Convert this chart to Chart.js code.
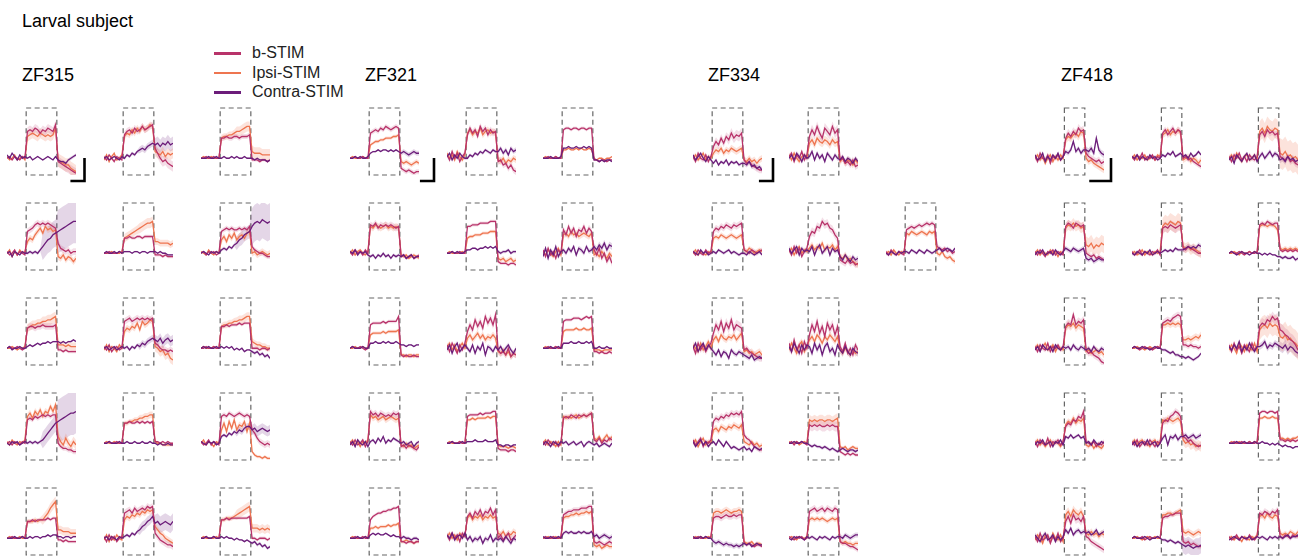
<!DOCTYPE html>
<html>
<head>
<meta charset="utf-8">
<script src="https://cdn.jsdelivr.net/npm/chart.js@4.4.0/dist/chart.umd.min.js"></script>
<style>
  body { margin: 0; background: #fff; font-family: "Liberation Sans", Arial, sans-serif; }
  #page { position: relative; width: 1310px; height: 556px; overflow: hidden; background: #fff; }
  .txt { position: absolute; white-space: nowrap; color: #000; }
  .legtxt { position: absolute; white-space: nowrap; color: #222; font-size: 16px; line-height: 16px; }
  .legline { position: absolute; width: 27px; height: 2.5px; }
  canvas { position: absolute; }
</style>
</head>
<body>
<div id="page"></div>
<script>
// ---- data: dF/F traces, 28 samples each (pre | stim | post) ----
const groupNames = ['ZF315', 'ZF321', 'ZF334', 'ZF418'];
const conditions = ['b-STIM', 'Ipsi-STIM', 'Contra-STIM'];
const stimOnset = [8, 8, 8, 12];   // first stimulus sample per fish
const stimLast = 19;               // last stimulus sample
const scaleBarT = [5, 5, 5, 8];    // samples
const scaleBarDF = 13;

const zf315B = [
  [0,1,-1,1,0,-1,1,0, 16,17,16,18,17,15,17,16,18,17,16,20, -2,-3,-4,-5,-6,-7,-8,-9],
  [1,-1,2,0,-2,1,0,-1, 14,16,17,15,18,16,17,19,17,18,19,20, 6,3,0,-2,-1,-3,-4,-5],
  [0,0,1,0,0,1,0,0, 12,12,13,12,12,13,13,12,13,13,13,14, -1,-1,-1,-2,-1,-1,-2,-1],
  [1,-1,0,2,-1,1,0,-1, 13,14,15,17,18,17,18,17,18,17,16,15, 6,3,2,1,2,0,1,1],
  [0,0,1,0,0,0,1,0, 9,9,10,9,9,10,10,9,10,10,10,10, -1,-1,-1,-2,-1,-2,-2,-2],
  [0,1,-1,1,0,1,-1,0, 13,14,15,14,15,14,14,15,14,15,14,16, 4,2,1,0,0,-1,-2,-2],
  [0,1,0,0,1,0,-1,0, 12,13,13,12,13,13,14,13,13,13,13,14, -1,-1,-2,-1,-2,-2,-2,-2],
  [1,-1,2,-2,0,1,-1,0, 16,17,18,16,17,18,17,18,17,18,17,18, 3,2,0,-1,-1,-2,-1,-2],
  [0,0,1,0,0,1,0,0, 13,13,14,13,14,14,14,15,14,15,15,15, 0,0,0,-1,0,0,-1,0],
  [0,1,-1,1,0,-1,1,0, 14,15,14,16,15,16,17,16,17,16,17,17, 0,-2,-3,-3,-4,-4,-5,-5],
  [0,0,1,0,0,1,0,0, 12,12,13,12,12,13,12,13,12,13,12,13, 1,1,0,1,0,1,0,0],
  [1,-1,0,2,-1,1,0,-1, 16,17,16,18,17,16,17,18,17,16,17,16, 8,6,3,1,0,-1,0,-1],
  [0,0,1,0,0,0,1,0, 10,10,11,10,11,11,11,11,12,11,12,12, -1,-1,-2,-1,-2,-2,-2,-2],
  [1,-2,2,-1,1,-2,0,1, 15,16,17,15,18,16,17,18,17,19,18,19, 3,1,-1,-2,-3,-4,-4,-5],
  [0,0,1,0,0,1,0,0, 11,11,12,11,12,12,12,12,12,12,12,13, 0,0,-1,0,0,0,-1,0]
];
const zf315I = [
  [1,-1,0,2,-1,0,1,-1, 13,14,15,14,13,15,14,13,14,13,14,18, -1,-2,-3,-4,-4,-6,-7,-8],
  [-1,2,-2,1,3,-1,0,2, 13,15,14,17,15,18,16,19,17,18,20,19, 4,3,2,4,1,3,2,3],
  [0,1,0,0,1,0,0,0, 12,13,13,14,14,15,16,16,17,18,19,19, 4,3,3,3,2,2,2,2],
  [0,2,-2,1,-1,2,0,1, 7,9,8,11,13,15,12,16,14,15,13,14, -2,-3,-1,-4,-2,-3,-5,-3],
  [0,0,0,1,0,0,0,1, 9,10,11,12,13,14,15,16,17,18,18,19, 7,7,6,6,6,6,5,6],
  [1,0,-1,2,0,-1,1,0, 8,10,7,11,9,12,8,10,11,9,12,13, 0,1,-1,0,1,0,-1,0],
  [0,0,1,0,-1,0,0,1, 12,13,14,14,15,15,16,16,17,17,18,19, 2,2,2,1,2,1,1,1],
  [-1,2,-2,1,0,-2,2,0, 10,12,11,13,12,15,11,16,14,15,17,16, 1,0,-2,-1,-4,-3,-6,-7],
  [0,1,0,0,0,1,0,0, 13,14,14,15,15,16,16,17,17,18,19,19, 4,3,2,2,1,1,0,0],
  [1,-1,2,0,-1,1,0,2, 16,18,15,19,17,20,16,19,18,22,19,23, 4,1,-1,3,0,-2,1,-1],
  [0,1,0,0,1,0,0,0, 12,12,13,13,14,14,15,15,16,16,17,17, 1,0,0,-1,-1,-1,-1,-1],
  [0,2,-1,1,0,-2,1,0, 8,12,7,13,9,14,8,11,10,13,7,12, -5,-7,-8,-8,-9,-8,-9,-9],
  [0,1,0,0,0,1,0,0, 10,10,10,11,10,11,11,13,15,18,20,22, 5,5,4,4,4,3,3,3],
  [-1,2,-2,1,-1,2,0,-1, 11,13,12,14,13,15,14,16,15,17,16,17, 7,5,3,2,0,-1,-2,-3],
  [0,1,0,0,0,0,1,0, 11,11,12,12,12,13,14,15,16,17,18,19, 6,6,6,5,6,5,6,5]
];
const zf315C = [
  [2,0,3,1,-1,2,0,1, 0,1,-1,0,1,0,-1,0,1,0,-1,1, -1,-2,-2,-3,-1,0,1,2],
  [0,1,-1,0,1,0,-1,1, 0,2,1,3,2,4,5,6,5,7,8,9, 8,9,7,9,8,10,8,9],
  [0,0,0,1,0,0,1,0, 0,1,0,0,1,0,1,0,0,1,0,0, 0,-1,0,-1,-1,-1,-2,-1],
  [0,1,-2,1,0,-1,1,0, 0,1,0,1,0,2,4,6,8,9,11,12, 13,14,15,16,17,18,19,19],
  [0,1,0,0,1,0,1,0, 1,1,1,0,1,1,0,1,1,0,1,1, 1,0,1,0,0,-1,-1,-1],
  [0,1,0,-1,1,0,1,0, 2,3,2,4,3,5,6,8,9,11,12,13, 16,18,19,18,20,19,18,19],
  [0,1,-1,0,0,1,0,0, 1,2,1,2,3,2,3,3,4,3,4,4, 4,3,4,3,4,4,5,4],
  [0,1,-1,0,1,-1,0,1, 0,1,-1,1,0,2,1,3,2,4,5,6, 5,4,6,3,5,6,4,5],
  [0,1,0,1,0,0,1,0, 1,0,1,0,1,-1,0,-1,0,-2,-1,-1, -2,-3,-2,-4,-3,-5,-4,-6],
  [0,-1,1,0,1,-1,0,1, 0,1,0,1,0,1,2,4,6,8,10,12, 13,14,15,16,17,18,18,19],
  [0,0,1,0,0,0,1,0, 0,1,0,0,1,0,0,1,0,0,1,0, 0,-1,0,-1,-1,0,-1,-1],
  [1,0,-1,1,0,1,-1,0, 4,5,4,6,5,7,6,8,7,9,10,10, 8,9,7,8,9,8,7,8],
  [0,0,0,1,0,0,1,0, 0,1,0,1,1,0,1,1,2,1,2,2, 1,1,0,1,1,0,1,1],
  [0,1,-1,1,0,-1,1,0, 1,2,1,3,2,4,5,7,8,10,11,13, 9,10,8,9,10,9,8,10],
  [0,0,1,0,0,1,0,0, 1,0,1,0,0,-1,0,-1,-1,-2,-1,-2, -3,-2,-4,-3,-5,-4,-6,-5]
];
// s.e.m. per trace: [pre, early stim, late stim, post], order b / ipsi / contra
const zf315Err = [
  [[0.5,2.5,2.5,3],[0.5,3,3,4],[0.5,0.5,0.5,1]],
  [[1,2,2,3],[1,2,2,3],[0.5,1,2,4]],
  [[0.3,1.5,1.5,1],[0.3,2,3,3.5],[0.3,0.5,0.5,0.5]],
  [[0.5,2,2,2],[0.5,2,2,2],[0.5,1,8,13]],
  [[0.3,1,1,1],[0.3,2.5,3,2],[0.3,0.5,0.5,0.5]],
  [[0.5,1.5,1.5,1.5],[0.5,2,2,2],[0.5,1,4,11]],
  [[0.3,2,2,1],[0.3,2.5,3,2.5],[0.3,0.5,0.5,0.5]],
  [[1,2,2,2],[1,2,2,3],[0.5,1,2,3]],
  [[0.3,1,1,1],[0.3,2,2.5,2],[0.3,0.5,0.5,1]],
  [[0.5,1.5,1.5,1.5],[0.5,2,2,3],[0.5,1,5,13]],
  [[0.3,1,1,0.5],[0.3,1.5,2,1],[0.3,0.5,0.5,0.5]],
  [[0.5,1.5,1.5,2],[0.5,2,2,1],[0.5,1,2,3]],
  [[0.3,1,1,1],[0.3,1.5,3,2.5],[0.3,0.5,0.5,0.5]],
  [[1,2,2,2],[1,2,2,2],[0.5,1,3,5]],
  [[0.3,1,1,1],[0.3,1.5,3,2.5],[0.3,0.5,0.5,1]]
];

const zf321B = [
  [0,0,1,0,0,1,0,0, 15,16,17,16,18,17,19,18,17,18,19,18, -6,-7,-8,-7,-8,-9,-8,-8],
  [2,-1,4,0,3,-2,1,3, 14,18,15,17,13,19,16,18,14,17,15,16, -2,-1,-4,-3,-6,-4,-7,-8],
  [0,0,1,0,0,1,0,0, 17,18,18,17,18,18,17,18,18,17,18,18, -1,-1,-2,-1,-1,-2,-1,-1],
  [1,-1,2,0,1,-1,2,0, 17,16,18,15,17,16,17,16,17,16,15,16, -2,-1,-3,-2,-1,-3,-2,-1],
  [0,0,1,0,0,1,0,0, 16,16,17,17,17,18,18,18,18,19,19,19, -5,-6,-6,-6,-7,-6,-6,-7],
  [2,-2,3,-1,1,-3,2,0, 14,11,16,12,15,10,14,13,16,12,15,13, 2,-1,3,-3,0,-5,-2,-6],
  [0,1,0,0,1,0,-1,0, 14,15,15,15,15,16,15,16,16,16,16,19, -4,-5,-4,-5,-5,-4,-5,-5],
  [2,-2,3,0,-3,2,-1,3, 10,14,11,17,13,16,12,19,15,18,14,20, -1,-3,-2,-4,0,-5,-3,-4],
  [0,0,1,0,0,1,0,0, 16,17,17,17,18,18,18,17,18,19,18,19, -2,-2,-3,-2,-3,-3,-2,-3],
  [1,-1,2,-1,0,2,-2,1, 19,17,18,16,18,17,16,17,16,18,17,18, -2,-1,-3,-1,-2,-3,-4,-2],
  [0,0,1,0,0,1,0,0, 16,17,17,17,17,18,17,18,18,18,19,19, -3,-4,-4,-4,-5,-4,-4,-5],
  [1,-1,2,0,-1,1,-2,0, 15,16,15,17,16,15,17,16,17,16,17,18, 2,1,3,0,2,1,3,2],
  [0,0,1,0,0,1,0,0, 11,13,14,15,15,16,16,17,17,18,18,19, -2,-2,-3,-2,-2,-3,-2,-2],
  [2,-1,3,0,2,-2,3,1, 13,15,12,16,14,17,13,16,15,18,14,17, 0,2,-1,1,3,-1,0,2],
  [0,1,0,0,1,0,0,1, 14,15,16,16,17,17,17,18,18,18,19,19, -2,-3,-2,-3,-4,-3,-2,-3]
];
const zf321I = [
  [0,1,0,0,0,1,0,0, 8,9,10,10,11,11,12,12,12,13,13,14, -2,-3,-2,-3,-4,-3,-2,-3],
  [3,0,2,-1,4,1,-1,2, 15,17,14,16,15,18,14,16,17,15,16,15, -1,-2,0,-3,-1,-2,0,-1],
  [0,1,0,0,0,1,0,0, 5,5,6,5,5,6,5,6,5,5,6,5, 0,-1,0,0,-1,0,0,1],
  [0,2,-1,1,2,0,-1,1, 16,15,17,16,15,16,17,15,16,15,16,15, -1,-2,-1,-3,-2,-1,-2,-3],
  [0,1,0,0,0,0,1,0, 9,10,10,11,11,11,12,12,12,13,13,13, -3,-4,-3,-5,-4,-3,-5,-4],
  [1,-1,2,0,-2,1,3,-1, 11,12,10,13,11,12,10,11,12,11,10,12, -1,0,-2,1,-1,-3,0,-2],
  [0,0,1,0,0,1,0,0, 8,9,9,9,9,10,9,10,10,10,10,11, -4,-4,-5,-4,-4,-5,-4,-4],
  [1,3,-1,2,-2,1,3,0, 6,8,5,7,9,6,8,5,7,6,8,6, -2,-3,-1,-4,-2,-5,-3,-4],
  [0,1,0,0,0,1,0,0, 10,11,11,11,11,12,11,11,12,11,11,12, -1,-1,-1,-2,-1,-1,-1,-1],
  [0,2,-1,1,-2,1,0,2, 17,15,16,14,15,16,14,15,16,15,14,15, -1,-2,0,-2,-1,-3,-2,-1],
  [0,1,0,0,0,1,0,0, 14,14,15,14,15,15,15,15,16,15,16,16, -1,-2,-2,-2,-3,-2,-2,-3],
  [0,2,-1,1,0,-2,1,-1, 16,15,16,15,16,17,15,16,17,16,17,18, 3,2,4,1,3,5,2,4],
  [0,1,0,0,0,0,1,0, 6,6,7,6,7,7,7,8,7,8,8,9, -2,-2,-1,-2,-2,-3,-2,-2],
  [1,3,0,2,-1,3,1,2, 12,14,11,13,12,14,11,13,12,14,12,13, 3,2,4,1,3,2,4,3],
  [0,0,1,0,0,1,0,0, 12,13,13,14,14,15,14,15,15,16,15,16, -4,-5,-4,-6,-5,-4,-5,-5]
];
const zf321C = [
  [0,0,1,0,1,0,0,1, 3,4,4,5,4,5,5,4,5,4,5,4, 3,4,3,2,3,4,3,3],
  [1,3,-1,2,0,3,1,0, 0,2,1,3,2,4,3,5,4,3,5,4, 4,6,3,5,2,6,4,5],
  [0,0,0,1,0,0,0,1, 6,6,7,6,6,7,6,6,7,6,7,6, -1,-1,-2,-1,-2,-1,-1,-2],
  [1,0,2,-1,1,0,1,-1, -2,-1,-3,-1,-2,0,-2,-1,-3,-1,-2,-1, -2,-1,-3,-2,-1,-3,-2,-2],
  [0,0,1,0,1,0,0,1, 2,2,3,3,2,3,3,4,3,4,3,4, 1,0,1,1,2,0,1,1],
  [-2,3,-3,2,-1,4,-2,1, 2,0,3,1,4,-1,3,2,0,4,1,2, 4,2,5,3,6,2,5,4],
  [0,1,0,0,0,1,0,0, 3,3,4,3,3,4,3,4,3,3,4,3, 2,2,1,2,2,1,2,2],
  [-1,2,-3,1,3,-2,0,2, 0,-2,2,-3,1,-1,3,-4,1,0,-2,1, -1,1,-2,0,2,-1,-3,0],
  [0,0,0,1,0,0,1,0, 3,3,3,4,3,3,4,3,3,4,3,4, 0,0,1,0,0,1,0,0],
  [-1,1,-2,2,0,-1,1,-2, 1,2,0,3,1,4,0,2,1,3,2,1, 0,1,-1,0,1,-2,0,1],
  [0,0,1,0,0,0,1,0, 1,1,1,2,1,1,1,2,1,1,1,2, -1,-1,-2,-1,-1,-2,-1,-1],
  [-1,1,0,-2,1,0,-1,1, 0,1,-1,0,1,-1,0,1,-2,0,1,0, -1,0,-2,-1,0,-1,-2,0],
  [0,0,0,1,0,0,1,0, 2,3,2,3,2,2,3,2,1,2,1,1, 0,1,0,0,-1,0,0,-1],
  [2,0,3,-1,1,2,0,3, -1,1,-2,0,-1,1,-3,0,-1,2,-2,0, -1,0,-2,1,-1,-3,0,-1],
  [1,0,0,1,0,0,1,0, 3,4,3,4,3,3,4,3,4,3,3,4, 1,2,0,1,2,1,0,1]
];
const zf321Err = [
  [[0.3,1.5,1.5,1.5],[0.3,1,1,1.5],[0.3,0.5,0.5,1.5]],
  [[1.5,2,2,2],[1.5,2,2,2],[1,1,1,1.5]],
  [[0.3,1,1,0.5],[0.3,0.5,0.5,0.5],[0.3,0.5,0.5,0.5]],
  [[1,2,2,1],[1,2,2,1],[1,1,1,1]],
  [[0.3,1,1,1],[0.3,1,1,1.5],[0.3,0.5,0.5,1]],
  [[1.5,2,2,2],[1.5,2,2,2],[1.5,1.5,1.5,2]],
  [[0.3,1,1,1],[0.3,1,1,1],[0.3,0.5,0.5,0.5]],
  [[1.5,2.5,2.5,2],[1.5,2,2,2],[1.5,1.5,1.5,1.5]],
  [[0.3,1,1,1],[0.3,1,1,1],[0.3,0.5,0.5,0.5]],
  [[1,2,2,1.5],[1,2,2,1.5],[1,1,1,1]],
  [[0.3,1,1,1],[0.3,1,1,1],[0.3,0.5,0.5,0.5]],
  [[1,1.5,1.5,1.5],[1,1.5,1.5,1.5],[1,1,1,1]],
  [[0.3,1,1,1],[0.3,1,1,1],[0.3,0.5,0.5,1]],
  [[1.5,2,2,2],[1.5,2,2,2],[1.5,1.5,1.5,1.5]],
  [[0.5,1.5,1.5,1.5],[0.5,1.5,1.5,1.5],[0.5,1,1,1.5]]
];

const zf334B = [
  [1,-2,3,0,-1,2,-2,1, 7,10,8,12,9,13,11,15,12,14,13,15, -1,-3,-2,-4,-5,-6,-7,-7],
  [1,3,-2,2,0,4,-1,2, 13,17,14,19,15,12,18,16,14,19,15,17, -1,0,-3,-2,-4,-1,-5,-4],
  [1,-1,2,0,-1,2,0,1, 13,15,14,16,15,17,16,15,17,16,17,18, 2,1,0,2,1,0,1,2],
  [2,-1,4,0,3,-2,1,3, 10,13,12,16,15,19,17,18,15,14,11,9, -4,-5,-6,-4,-6,-5,-7,-6],
  [1,-1,2,0,-1,1,0,-1, 14,15,16,15,16,17,16,17,18,17,18,17, 4,3,2,3,1,2,0,1],
  [1,-3,3,-1,2,-2,1,3, 9,14,11,16,10,15,12,17,11,14,13,12, -1,0,-2,-3,-4,-5,-6,-6],
  [3,-2,5,-1,2,-3,4,0, 8,14,10,16,9,13,7,15,11,14,8,13, 1,-2,3,-3,0,-4,2,-1],
  [2,-1,1,3,-2,1,0,2, 13,15,14,16,15,17,16,18,17,18,17,19, 5,3,2,0,-2,-3,-4,-4],
  [0,1,-1,1,0,1,0,-1, 11,10,11,10,11,10,10,11,10,11,10,10, -5,-6,-7,-6,-7,-6,-7,-7],
  [0,0,1,0,0,1,0,1, 12,13,13,12,13,14,13,13,14,13,14,14, -3,-4,-3,-4,-5,-4,-4,-5],
  [1,0,-1,1,0,1,-1,0, 16,17,18,16,17,18,16,18,17,16,18,17, -2,-3,-3,-4,-5,-5,-6,-7]
];
const zf334I = [
  [0,2,-1,1,3,-1,1,0, 3,5,4,6,3,5,4,6,5,4,5,6, -1,-2,0,-2,-1,-3,-1,0],
  [2,-1,3,0,-2,1,2,0, 9,11,8,12,10,9,11,10,8,11,9,10, -2,0,-3,-1,-2,-4,-1,-3],
  [0,2,-1,1,0,-1,1,0, 9,10,9,11,10,9,10,11,10,9,10,11, 2,1,3,2,0,1,2,1],
  [1,3,-1,2,4,0,2,1, 3,5,2,4,3,6,2,4,3,5,2,4, -2,-3,-1,-4,-3,-5,-6,-7],
  [0,1,-1,2,0,-1,1,0, 12,11,13,12,11,12,13,12,11,13,12,13, 0,-1,1,-2,-3,-2,-4,-5],
  [2,0,-2,3,-1,1,4,0, 5,7,4,8,6,5,7,6,8,5,7,9, -2,-1,-3,-2,-4,-3,-2,-4],
  [-1,3,0,-3,2,4,-2,1, 5,7,4,8,6,3,7,5,8,6,4,7, -1,-3,0,-2,-4,-1,-3,-2],
  [0,2,-2,1,3,-1,1,0, 8,9,7,10,9,8,10,9,11,10,9,11, 1,0,-1,1,-1,0,-2,-1],
  [1,0,0,1,-1,0,1,0, 14,13,14,13,14,14,13,14,14,13,14,15, -2,-3,-2,-4,-3,-2,-3,-3],
  [0,1,0,1,0,0,1,0, 15,16,16,15,16,17,16,15,16,16,17,16, -2,-3,-3,-2,-4,-3,-3,-4],
  [0,1,0,-1,1,0,0,1, 11,12,11,12,11,12,11,10,11,12,11,12, -2,-3,-2,-3,-3,-4,-3,-3]
];
const zf334C = [
  [2,-1,1,3,0,-2,1,-1, -3,-1,-4,-2,-3,-1,-4,-2,-3,-2,-4,-3, -3,-4,-2,-5,-4,-6,-5,-7],
  [0,2,-1,3,1,-2,2,0, 1,4,-1,3,0,2,-2,3,1,-1,2,0, -1,1,-2,0,-1,-3,0,-2],
  [1,0,-1,2,0,1,-1,0, 1,0,2,1,0,1,2,0,1,0,-1,0, 0,-1,1,0,-1,0,1,-1],
  [3,0,2,4,-1,3,1,2, 1,4,-1,3,5,0,2,4,-1,3,1,2, -2,-4,-1,-3,-5,-2,-4,-3],
  [0,-1,1,0,-1,1,0,1, 1,0,2,1,0,2,1,0,2,1,0,1, 2,3,1,2,3,2,1,3],
  [0,3,-2,1,3,-1,2,0, -2,-4,-1,-5,-2,-3,-6,-1,-3,-4,-2,-3, -4,-5,-6,-4,-7,-6,-5,-6],
  [1,-2,3,0,-3,2,-1,2, 1,-3,3,-1,2,-4,1,3,-2,0,-4,2, -1,-3,1,-2,-4,0,-2,-3],
  [1,-2,0,2,-1,1,-2,0, 1,-1,2,0,-2,1,-1,-3,-2,-3,-4,-3, -2,-4,-3,-5,-2,-3,-4,-3],
  [0,0,1,0,0,1,0,0, -1,-2,-1,-2,-2,-3,-2,-3,-4,-3,-4,-5, -4,-3,-4,-5,-4,-4,-5,-4],
  [1,0,0,1,0,1,0,0, -2,-3,-2,-3,-4,-3,-4,-4,-5,-4,-5,-4, -3,-4,-3,-5,-4,-3,-4,-4],
  [0,-1,1,0,1,0,-1,1, 0,1,0,-1,1,0,1,0,-1,1,0,1, 1,0,2,1,0,1,2,2]
];
const zf334Err = [
  [[1.5,2.5,3,2],[1.5,2,2,2],[1,1,1,1.5]],
  [[1.5,3,3,2],[1.5,2.5,2.5,2],[1.5,1.5,1.5,1.5]],
  [[1,2,2,1.5],[1,1.5,1.5,1.5],[1,1,1,1]],
  [[1.5,2.5,2.5,2],[1.5,2,2,2],[1.5,1.5,1.5,1.5]],
  [[1,1.5,1.5,1.5],[1,1.5,1.5,1.5],[1,1,1,1]],
  [[2,3,3,2],[2,2,2,2],[1.5,1.5,1.5,1.5]],
  [[2,3,3,2],[2,2,2,2],[2,2,2,2]],
  [[1.5,2,2,1.5],[1.5,2,2,1.5],[1,1,1,1]],
  [[0.5,3,3,1],[0.5,3,3,1],[0.5,1,1,1]],
  [[0.5,2,2,1],[0.5,2,2,1],[0.5,1.5,1.5,1]],
  [[0.5,2,2,1.5],[0.5,1.5,1.5,1.5],[0.5,1,1,1.5]]
];

const zf418B = [
  [1,-2,3,0,-1,2,-3,1,0,2,-1,1, 12,15,13,16,14,18,16,17, 3,1,0,-1,-2,-1,-3,-2],
  [1,-1,2,0,3,-1,1,0,2,-1,1,0, 15,17,14,16,18,15,17,16, 0,1,-1,0,-2,-3,-4,-5],
  [1,-2,2,0,3,-1,1,-2,2,0,-1,1, 14,16,13,17,15,16,14,15, 1,0,-1,1,-2,-1,-3,-4],
  [1,-1,2,0,-2,1,0,2,-1,1,0,-1, 16,18,17,15,18,17,16,17, 0,-1,-2,-1,-3,-2,-3,-4],
  [1,-1,0,2,-1,1,0,-1,1,0,2,-1, 15,16,15,17,16,15,16,17, 3,2,4,3,2,1,0,0],
  [0,1,0,0,1,0,-1,0,1,0,0,1, 17,18,17,19,18,17,18,18, 2,1,2,1,2,1,2,1],
  [1,-2,2,0,-1,3,-2,1,0,2,-1,1, 13,15,14,20,14,16,15,17, -1,-3,-2,-4,-5,-6,-8,-9],
  [0,1,0,-1,0,1,0,0,-1,0,1,0, 15,16,17,16,18,19,20,19, 2,2,1,2,1,1,0,1],
  [2,-2,3,-1,1,-3,2,0,-2,3,-1,1, 13,15,14,17,16,19,17,18, 11,10,8,7,5,4,2,-1],
  [1,-2,2,0,-1,3,-2,1,0,2,-1,1, 10,12,11,14,13,16,15,19, 1,0,-1,1,-2,0,-1,1],
  [1,-1,2,-2,0,1,-1,2,0,-2,1,0, 12,14,13,16,17,19,18,16, 4,3,1,2,0,-1,-2,-1],
  [0,0,1,0,0,1,0,0,1,0,0,1, 18,19,19,18,19,19,18,19, 2,2,1,2,1,2,1,2],
  [1,-2,3,-1,0,2,-3,1,-1,3,-2,0, 10,13,9,14,11,12,10,13, 1,0,-2,-3,-4,-5,-6,-7],
  [0,1,0,0,1,-1,0,1,0,0,1,0, 12,13,13,14,14,15,15,15, -2,-3,-2,-4,-3,-4,-5,-5],
  [1,-1,0,2,-1,1,0,-1,2,0,-1,1, 15,14,16,15,14,16,15,17, 1,0,2,1,0,2,1,1]
];
const zf418I = [
  [0,2,-1,1,-3,0,2,-2,1,-1,2,0, 11,13,12,14,15,13,16,15, 0,-2,-1,-3,-4,-5,-6,-7],
  [0,2,-1,1,0,2,-1,0,1,-1,2,1, 14,15,17,14,16,15,17,15, -1,0,1,-2,0,-1,-3,-1],
  [0,2,-1,3,0,-2,1,2,-1,0,2,-1, 16,18,15,19,17,16,18,17, 3,2,4,1,2,0,1,-1],
  [0,2,-1,1,0,-1,2,0,1,-2,1,0, 15,17,16,18,16,17,15,16, 5,4,6,3,5,4,6,5],
  [0,1,-1,0,2,-1,1,0,-1,1,0,1, 16,18,17,19,18,17,19,18, 4,3,4,2,3,2,1,0],
  [0,0,1,0,-1,1,0,0,1,0,1,0, 16,17,17,16,17,17,16,14, 3,2,3,2,3,2,3,2],
  [0,2,-1,1,3,-1,0,2,-2,1,0,-1, 12,14,13,15,12,14,13,12, -2,-1,-3,-2,-1,-3,-2,-4],
  [0,0,1,0,0,-1,0,1,0,0,1,0, 14,14,15,14,15,14,15,14, 5,5,6,5,6,7,6,8],
  [-1,2,0,-3,3,1,-2,2,0,-1,3,-2, 11,13,14,12,15,13,14,13, 7,6,8,5,6,4,3,1],
  [0,2,-1,1,-2,0,2,-1,1,0,-2,1, 11,13,12,15,12,14,13,15, -1,-2,0,-3,-1,-2,-3,-1],
  [0,2,-1,1,2,-1,0,-2,1,2,-1,1, 14,13,15,14,13,14,15,13, 2,0,1,-1,0,-2,-1,-2],
  [0,1,0,0,1,0,0,0,1,0,1,0, 15,15,16,15,15,16,15,15, 3,3,2,3,2,3,3,4],
  [-1,2,0,-3,2,1,-2,3,0,-1,2,-2, 14,16,13,17,15,14,16,13, 3,2,4,2,3,1,3,2],
  [0,0,1,0,-1,0,1,0,0,1,0,0, 14,14,15,15,14,15,16,17, 4,3,4,3,2,3,4,3],
  [0,1,-1,1,0,-2,1,0,-1,1,0,2, 13,14,12,15,13,12,14,13, 3,2,3,2,4,3,2,4]
];
const zf418C = [
  [2,-1,0,3,-2,1,-1,2,0,3,-1,1, 4,3,5,10,4,6,3,5, 5,4,6,3,12,5,3,2],
  [1,0,2,-1,1,0,-1,2,0,1,-1,0, 2,1,3,2,4,1,2,3, 1,2,0,3,1,2,4,2],
  [-1,1,-3,2,0,-2,1,3,-1,0,2,-2, 1,3,0,2,4,1,3,2, -1,0,-2,1,-1,0,-2,-1],
  [-1,1,0,2,-1,0,1,-1,2,0,-1,1, 3,2,1,3,2,1,2,3, -3,-4,-3,-5,-4,-3,-4,-4],
  [0,-1,1,0,-1,1,0,2,-1,0,1,0, 1,2,1,2,1,3,2,2, 2,3,4,3,4,3,5,4],
  [0,1,0,-1,0,1,0,0,-1,0,1,0, 0,-1,0,-1,0,-1,-1,-2, -2,-3,-2,-3,-3,-2,-4,-3],
  [-1,1,-2,2,0,-1,1,-2,2,0,-1,1, 0,1,-1,2,0,-1,1,0, -1,0,-2,1,-1,-2,0,-1],
  [0,1,0,0,1,0,0,-1,0,1,0,0, -1,-1,-2,-3,-2,-4,-4,-5, -5,-6,-5,-6,-7,-6,-5,-3],
  [1,-1,2,0,4,-2,1,-1,3,0,-2,1, 1,2,4,0,2,1,3,2, 1,0,2,-1,1,0,-2,-3],
  [-1,1,0,2,-1,0,1,-2,1,0,2,-1, 4,3,5,3,4,5,3,4, 0,1,-1,2,0,-1,1,0],
  [-1,1,-2,0,1,-1,2,-1,0,1,-2,0, 3,5,-1,4,3,5,2,4, 4,5,3,4,5,3,4,5],
  [0,0,0,1,0,0,1,0,0,0,1,0, 0,1,0,0,-1,0,-1,0, -1,-2,-1,-2,-2,-3,-2,-2],
  [2,0,-2,1,3,-1,0,2,-2,1,-1,1, 5,3,6,2,4,5,3,4, 3,4,2,3,5,2,3,4],
  [0,1,0,0,0,1,0,-1,0,0,1,0, -1,-1,-2,-1,-2,-3,-2,-3, -4,-5,-4,-5,-6,-5,-5,-4],
  [-1,0,1,0,-1,1,0,0,1,-1,0,1, 0,1,0,-1,1,0,1,0, 1,0,1,2,0,1,1,2]
];
const zf418Err = [
  [[1.5,2.5,2.5,2],[1.5,2.5,2.5,2],[1,1.5,1.5,2]],
  [[1,2,2,1.5],[1,2,2,2],[1,1,1,1]],
  [[1.5,2,2,2],[1.5,6,6,9],[1,1.5,1.5,2]],
  [[1,2,2,1.5],[1,3,3,5],[1,1.5,1.5,1.5]],
  [[1,3,3,2],[1,5,5,3],[1,1,1,1.5]],
  [[0.5,1.5,1.5,1],[0.5,1.5,1.5,1.5],[0.5,0.5,0.5,1]],
  [[1.5,2.5,2.5,2],[1.5,2.5,2.5,2],[1,1.5,1.5,1.5]],
  [[0.5,2,2,1.5],[0.5,2,2,2],[0.5,1,1,1]],
  [[1.5,3,3,4],[1.5,6,6,8],[1.5,2,2,3]],
  [[1.5,2,2,1.5],[1.5,2,2,1.5],[1,1,1,1]],
  [[1.5,2,2,2],[1.5,2,2,3],[1,1.5,1.5,1.5]],
  [[0.3,1,1,1],[0.3,1,1,1],[0.3,0.5,0.5,0.5]],
  [[1.5,2.5,2.5,2],[1.5,2.5,2.5,2],[1.5,1.5,1.5,1.5]],
  [[0.5,1.5,1.5,1.5],[0.5,1.5,1.5,2],[0.5,1,1,5]],
  [[1,2,2,1.5],[1,2,2,1.5],[0.5,1,1,1]]
];

// panel slots [row, col] for each fish
const fullSlots = [[0,0],[0,1],[0,2],[1,0],[1,1],[1,2],[2,0],[2,1],[2,2],[3,0],[3,1],[3,2],[4,0],[4,1],[4,2]];
const zf334Slots = [[0,0],[0,1],[1,0],[1,1],[1,2],[2,0],[2,1],[3,0],[3,1],[4,0],[4,1]];

const bData = [zf315B, zf321B, zf334B, zf418B];
const iData = [zf315I, zf321I, zf334I, zf418I];
const cData = [zf315C, zf321C, zf334C, zf418C];
const errData = [zf315Err, zf321Err, zf334Err, zf418Err];
const slotData = [fullSlots, fullSlots, zf334Slots, fullSlots];

// ---- style / layout ----
const lineColors = ['#b8336a', '#ee7550', '#6c1d7a'];
const bandColors = ['rgba(184,51,106,0.16)', 'rgba(238,117,80,0.2)', 'rgba(108,29,122,0.18)'];
const drawOrder = [2, 3, 1];   // lower = drawn on top
const groupX0 = 7, groupDX = 342.8, colDX = 96.8;
const rowY0 = 108, rowDY = 95;
const panelW = 69, panelH = 67;
const pad = { left: 2, top: 2, right: 20, bottom: 10 };
const sbDX = [8.5, 15, 11, 7];  // scale bar offset right of the trace end

const page = document.getElementById('page');

function addText(cls, txt, left, top, size) {
  const d = document.createElement('div');
  d.className = cls;
  d.textContent = txt;
  d.style.left = left + 'px';
  d.style.top = top + 'px';
  if (size) { d.style.fontSize = size + 'px'; d.style.lineHeight = size + 'px'; }
  page.appendChild(d);
}

addText('txt', 'Larval subject', 22, 12, 18);

// legend
const legY = [53.5, 73, 92.5];
conditions.forEach((name, k) => {
  const l = document.createElement('div');
  l.className = 'legline';
  l.style.left = '214px';
  l.style.top = (legY[k] - 1.25) + 'px';
  l.style.background = lineColors[k];
  page.appendChild(l);
  addText('legtxt', name, 252, legY[k] - 8.5);
});

const stimBox = {
  id: 'stimBox',
  beforeDatasetsDraw(chart, args, opts) {
    const { ctx, chartArea, scales } = chart;
    const xa = scales.x.getPixelForValue(opts.from);
    const xb = scales.x.getPixelForValue(opts.to);
    ctx.save();
    ctx.strokeStyle = 'rgba(85,85,85,0.9)';
    ctx.lineWidth = 1.2;
    ctx.setLineDash([5, 3.5]);
    ctx.strokeRect(xa, chartArea.top, xb - xa, chartArea.bottom - chartArea.top);
    ctx.restore();
  }
};

const scaleBar = {
  id: 'scaleBar',
  afterDraw(chart, args, opts) {
    if (!opts.show) return;
    const { ctx, chartArea, scales } = chart;
    const x1 = chartArea.right + opts.dx;
    const x0 = x1 - (scales.x.getPixelForValue(opts.t) - scales.x.getPixelForValue(0));
    const yb = chartArea.bottom + 6;
    const yt = yb - (scales.y.getPixelForValue(0) - scales.y.getPixelForValue(opts.df));
    ctx.save();
    ctx.strokeStyle = '#000';
    ctx.lineWidth = 2.6;
    ctx.lineCap = 'square';
    ctx.beginPath();
    ctx.moveTo(x0, yb);
    ctx.lineTo(x1, yb);
    ctx.lineTo(x1, yt);
    ctx.stroke();
    ctx.restore();
  }
};

function phaseOf(i, g) {
  const on = stimOnset[g];
  const mid = on + Math.floor((stimLast - on + 1) / 2);
  if (i < on) return 0;
  if (i < mid) return 1;
  if (i <= stimLast) return 2;
  return 3;
}

function makePanel(g, p) {
  const [row, col] = slotData[g][p];
  const left = Math.round(groupX0 + groupDX * g + colDX * col) - pad.left;
  const top = Math.round(rowY0 + rowDY * row) - pad.top;
  const cv = document.createElement('canvas');
  const w = pad.left + panelW + pad.right, h = pad.top + panelH + pad.bottom;
  cv.width = w; cv.height = h;
  cv.style.left = left + 'px'; cv.style.top = top + 'px';
  cv.style.width = w + 'px'; cv.style.height = h + 'px';
  page.appendChild(cv);

  const series = [bData[g][p], iData[g][p], cData[g][p]];
  const errs = errData[g][p];
  const datasets = [];
  series.forEach((vals, k) => {
    datasets.push({
      data: vals.map((v, i) => ({ x: i, y: v - errs[k][phaseOf(i, g)] })),
      borderWidth: 0, borderColor: 'transparent', pointRadius: 0, fill: false, order: 10
    });
    datasets.push({
      data: vals.map((v, i) => ({ x: i, y: v + errs[k][phaseOf(i, g)] })),
      borderWidth: 0, borderColor: 'transparent', pointRadius: 0, fill: '-1',
      backgroundColor: bandColors[k], order: 10
    });
  });
  series.forEach((vals, k) => {
    datasets.push({
      label: conditions[k],
      data: vals.map((v, i) => ({ x: i, y: v })),
      borderColor: lineColors[k], borderWidth: 1.3, pointRadius: 0, fill: false,
      order: drawOrder[k]
    });
  });

  new Chart(cv, {
    type: 'line',
    data: { datasets },
    options: {
      responsive: false,
      animation: false,
      devicePixelRatio: 1,
      events: [],
      layout: { padding: pad },
      elements: { line: { tension: 0 } },
      scales: {
        x: { type: 'linear', min: 0, max: 27, display: false },
        y: { min: -10, max: 30, display: false }
      },
      plugins: {
        legend: { display: false },
        tooltip: { enabled: false },
        stimBox: { from: stimOnset[g] - 0.5, to: stimLast + 0.5 },
        scaleBar: { show: p === 0, dx: sbDX[g], t: scaleBarT[g], df: scaleBarDF }
      }
    },
    plugins: [stimBox, scaleBar]
  });
}

groupNames.forEach((name, g) => {
  const boxLeft = groupX0 + groupDX * g + (stimOnset[g] - 0.5) * panelW / 27;
  addText('txt', name, Math.round(boxLeft - 4), 66, 18);
  slotData[g].forEach((s, p) => makePanel(g, p));
});
</script>
</body>
</html>
